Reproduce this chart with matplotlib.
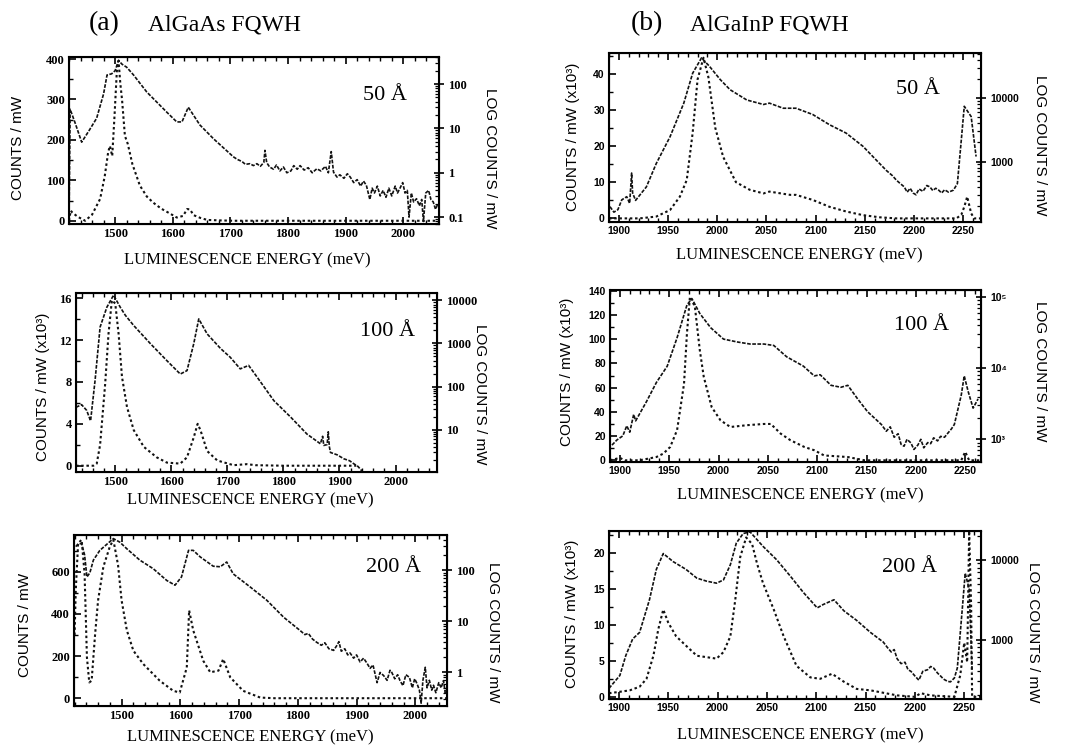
#!/usr/bin/env python3
"""fqwh_luminescence.py - AlGaAs / AlGaInP FQWH luminescence spectra"""

import matplotlib
matplotlib.use("Agg")
import matplotlib.pyplot as plt
from matplotlib.font_manager import FontProperties
from matplotlib.ticker import MultipleLocator, FixedLocator, LogLocator, NullFormatter

SERIF = ["Liberation Serif", "DejaVu Serif"]
SANS = ["Liberation Sans", "DejaVu Sans"]

# ---- (a) AlGaAs, 50 A ----
a50_lin_e = [1420, 1423, 1426, 1435, 1448, 1460, 1474, 1482, 1488, 1491, 1495, 1499, 1503,
             1506, 1509, 1512, 1517, 1522, 1530, 1543, 1555, 1566, 1580, 1595, 1607, 1618,
             1625, 1630, 1636, 1648, 1660, 1680, 1705, 1800, 1900, 2000, 2060]
a50_lin_v = [0, 25, 20, 10, 0, 15, 54, 110, 170, 185, 160, 260, 370, 396, 340, 300, 210,
             190, 140, 87, 60, 45, 30, 18, 8, 12, 29, 28, 14, 7, 2, 1, 0, 0, 0, 0, 0]
a50_log_e = [1420, 1422, 1430, 1442, 1455, 1468, 1480, 1486, 1494, 1500, 1506, 1512, 1520,
             1532, 1555, 1590, 1607, 1616, 1627, 1647, 1671, 1705, 1712, 1720, 1726, 1734,
             1740, 1746, 1752, 1758, 1760, 1763, 1768, 1775, 1780, 1786, 1792, 1798, 1805,
             1810, 1816, 1821, 1828, 1835, 1842, 1850, 1857, 1865, 1870, 1875, 1879, 1885,
             1890, 1897, 1903, 1908, 1914, 1920, 1926, 1931, 1936, 1942, 1946, 1950, 1955,
             1960, 1965, 1970, 1975, 1980, 1986, 1990, 1994, 1999, 2003, 2007, 2010, 2014,
             2018, 2023, 2028, 2032, 2035, 2039, 2044, 2048, 2052, 2056, 2060]
a50_log_v = [0.08, 27, 14, 4.9, 9, 17, 60, 160, 170, 200, 340, 280, 240, 160, 66, 23, 14,
             14, 30, 12, 5.8, 2.3, 2.0, 1.8, 1.55, 1.6, 1.45, 1.6, 1.4, 1.7, 3.2, 1.7, 1.35,
             1.2, 1.5, 1.1, 1.35, 1.0, 1.1, 1.45, 1.2, 1.45, 1.15, 1.3, 1.0, 1.23, 1.1, 1.4,
             1.0, 3.0, 1.03, 0.8, 0.9, 0.75, 0.95, 0.8, 0.6, 0.7, 0.5, 0.65, 0.52, 0.25,
             0.45, 0.35, 0.5, 0.3, 0.4, 0.28, 0.45, 0.3, 0.5, 0.35, 0.44, 0.6, 0.35, 0.4,
             0.1, 0.35, 0.22, 0.26, 0.18, 0.25, 0.08, 0.35, 0.4, 0.25, 0.22, 0.15, 0.2]

# ---- (a) AlGaAs, 100 A ----
a100_lin_e = [1430, 1461, 1467, 1473, 1482, 1488, 1494, 1500, 1506, 1512, 1521, 1533, 1551,
              1574, 1592, 1616, 1628, 1640, 1647, 1652, 1664, 1682, 1711, 1735, 1750, 1800,
              1930]
a100_lin_v = [0, 0, 0.2, 2, 7.8, 12.6, 15.8, 15.5, 12.6, 8.5, 5.6, 3.4, 1.8, 0.8, 0.3, 0.2,
              0.8, 2.7, 4.0, 3.4, 1.4, 0.5, 0.05, 0.15, 0.05, 0, 0]
a100_log_e = [1430, 1440, 1449, 1456, 1464, 1473, 1485, 1497, 1509, 1518, 1533, 1563, 1592,
              1616, 1628, 1640, 1649, 1664, 1688, 1705, 1723, 1738, 1753, 1783, 1813, 1842,
              1866, 1870, 1872, 1878, 1880, 1882, 1884, 1896, 1908, 1918, 1926, 1933, 1940]
a100_log_v = [33, 38, 28, 16, 138, 2400, 6900, 13200, 6900, 4500, 2600, 980, 400, 195, 234,
              980, 3700, 1660, 760, 480, 257, 309, 166, 47, 19.5, 7.9, 4.7, 7.0, 4.3, 4.5,
              8.9, 4.0, 2.95, 2.6, 2.1, 1.9, 1.6, 1.4, 1.1]

# ---- (a) AlGaAs, 200 A ----
a200_lin_e = [1420, 1422, 1426, 1432, 1437, 1441, 1445, 1449, 1455, 1460, 1469, 1480, 1486,
              1494, 1500, 1509, 1520, 1537, 1565, 1588, 1599, 1611, 1615, 1622, 1639, 1651,
              1665, 1673, 1685, 1707, 1736, 1760, 1800, 2054]
a200_lin_v = [300, 513, 736, 752, 592, 194, 75, 83, 306, 465, 624, 720, 752, 632, 465, 322,
              226, 162, 83, 35, 27, 146, 417, 322, 178, 123, 131, 186, 99, 35, 3, 0, 0, 0]
a200_log_e = [1422, 1426, 1432, 1437, 1441, 1446, 1452, 1463, 1474, 1486, 1497, 1509, 1531,
              1554, 1577, 1591, 1602, 1614, 1622, 1634, 1656, 1668, 1679, 1690, 1719, 1747,
              1776, 1804, 1812, 1818, 1825, 1832, 1840, 1846, 1853, 1861, 1866, 1870, 1874,
              1880, 1885, 1889, 1895, 1900, 1906, 1912, 1918, 1923, 1928, 1935, 1940, 1946,
              1952, 1957, 1960, 1965, 1970, 1974, 1979, 1984, 1990, 1995, 1999, 2003, 2007,
              2010, 2013, 2017, 2020, 2024, 2028, 2031, 2035, 2040, 2044, 2048, 2051, 2053]
a200_log_v = [290, 330, 330, 200, 74, 89, 158, 245, 316, 417, 355, 263, 158, 107, 63, 51,
              74, 245, 245, 182, 120, 117, 145, 85, 47, 26, 12, 6.6, 5.5, 5.8, 4.5, 3.9,
              3.4, 3.8, 2.9, 2.7, 3.3, 4.0, 2.6, 2.9, 2.2, 2.4, 1.9, 2.2, 1.6, 1.9, 1.5,
              1.2, 1.4, 0.63, 1.0, 0.87, 0.7, 1.1, 1.0, 0.75, 0.9, 0.69, 0.55, 0.9, 0.8,
              0.5, 0.75, 0.6, 0.45, 0.25, 0.7, 1.26, 0.5, 0.7, 0.45, 0.56, 0.4, 0.63, 0.5,
              0.69, 0.4, 0.45]

# ---- (b) AlGaInP, 50 A ----
b50_lin_e = [1890, 1900, 1921, 1938, 1952, 1962, 1969, 1975, 1980, 1986, 1991, 1998, 2006,
             2019, 2033, 2047, 2053, 2074, 2080, 2097, 2114, 2131, 2148, 2165, 2182, 2243,
             2248, 2251, 2254, 2258, 2261, 2268]
b50_lin_v = [0, 0, 0, 0.5, 2.3, 6, 10.6, 23.6, 38.4, 44.4, 39, 25, 17, 10, 7.9, 6.9, 7.4,
             6.5, 6.5, 5.1, 3.2, 1.9, 0.9, 0.3, 0, 0, 1.0, 3.2, 6, 1.4, 0, 0]
b50_log_e = [1891, 1895, 1899, 1903, 1908, 1911, 1913, 1914, 1917, 1928, 1938, 1952, 1966,
             1975, 1984, 1992, 2003, 2013, 2030, 2047, 2053, 2067, 2080, 2097, 2114, 2131,
             2148, 2165, 2172, 2178, 2182, 2186, 2190, 2193, 2196, 2199, 2202, 2205, 2209,
             2213, 2216, 2219, 2222, 2225, 2228, 2231, 2235, 2240, 2244, 2248, 2251, 2254,
             2258, 2263]
b50_log_v = [195, 160, 175, 250, 280, 220, 660, 320, 245, 400, 930, 2450, 8300, 24500,
             42700, 31600, 19500, 13500, 9300, 7900, 8300, 6900, 6900, 5500, 3800, 2800,
             1740, 930, 720, 600, 510, 450, 400, 330, 380, 320, 300, 370, 340, 420, 400,
             350, 380, 355, 320, 360, 330, 355, 450, 2200, 7400, 6300, 5100, 1200]

# ---- (b) AlGaInP, 100 A ----
b100_lin_e = [1890, 1900, 1905, 1920, 1937, 1944, 1951, 1958, 1965, 1968, 1971, 1976, 1981,
              1985, 1993, 2002, 2012, 2029, 2046, 2053, 2063, 2073, 2087, 2097, 2107, 2131,
              2148, 2246, 2250, 2254, 2266]
b100_lin_v = [0, 2, 0, 0, 2.7, 5.5, 11, 25, 63, 105, 135, 127, 91, 69, 44, 33, 27.5, 29, 30,
              30, 22, 16.5, 11, 8.3, 4, 2.7, 0, 0, 7, 0, 0]
b100_log_e = [1892, 1897, 1903, 1907, 1910, 1914, 1916, 1927, 1937, 1948, 1958, 1968, 1973,
              1981, 1992, 2005, 2019, 2032, 2046, 2056, 2069, 2086, 2097, 2103, 2114, 2124,
              2131, 2141, 2151, 2165, 2170, 2174, 2178, 2182, 2185, 2188, 2191, 2195, 2198,
              2202, 2205, 2208, 2212, 2215, 2218, 2222, 2225, 2229, 2233, 2236, 2239, 2246,
              2249, 2253, 2258, 2263]
b100_log_v = [830, 980, 1120, 1550, 1260, 2240, 1820, 3400, 6300, 10700, 26900, 77600,
              95500, 58900, 37200, 25700, 23400, 21900, 21900, 20900, 14500, 10700, 7800,
              8100, 5750, 5400, 5750, 3700, 2450, 1620, 1300, 1500, 1070, 1200, 850, 800,
              1000, 890, 720, 830, 1000, 760, 900, 870, 1050, 950, 1100, 1070, 1250, 1400,
              1620, 4200, 7800, 4700, 2750, 3700]

# ---- (b) AlGaInP, 200 A ----
b200_lin_e = [1890, 1901, 1911, 1921, 1928, 1935, 1940, 1945, 1950, 1958, 1968, 1979, 1989,
              1999, 2006, 2013, 2018, 2023, 2029, 2035, 2040, 2046, 2057, 2067, 2080, 2094,
              2104, 2116, 2128, 2141, 2155, 2182, 2200, 2206, 2216, 2240, 2246, 2250, 2253,
              2255, 2257, 2258, 2267]
b200_lin_v = [0.5, 0.7, 0.9, 1.4, 2.5, 5.7, 9.4, 12.1, 10.3, 8.4, 7.1, 5.7, 5.5, 5.3, 6.2,
              8.4, 13.5, 19.4, 22.1, 21.2, 18.5, 15.8, 12.1, 8.4, 4.3, 2.7, 2.5, 3.2, 2.1,
              1.1, 0.9, 0.2, 0, 0.5, 0.2, 0, 3.0, 7.5, 4.8, 23, 12.6, 0, 0]
b200_log_e = [1890, 1901, 1907, 1914, 1921, 1931, 1938, 1945, 1955, 1968, 1979, 1989, 1999,
              2006, 2013, 2019, 2026, 2033, 2046, 2060, 2074, 2087, 2101, 2107, 2118, 2128,
              2141, 2155, 2168, 2172, 2176, 2179, 2182, 2186, 2190, 2193, 2196, 2200, 2204,
              2208, 2213, 2216, 2219, 2223, 2226, 2229, 2233, 2236, 2240, 2243, 2248, 2251,
              2255, 2258]
b200_log_v = [245, 355, 630, 1020, 1230, 3160, 7600, 12000, 9500, 7600, 5900, 5400, 5100,
              5600, 8700, 16200, 21400, 22400, 14800, 10000, 6200, 3900, 2500, 2750, 3160,
              2300, 1740, 1230, 930, 800, 700, 750, 575, 500, 520, 420, 400, 350, 310, 400,
              420, 460, 440, 380, 350, 320, 300, 295, 330, 440, 2400, 6800, 4300, 400]

W, H = 1065, 747


def box(left, top, right, bottom):
    """Pixel box -> figure fraction rect."""
    return [left / W, 1 - bottom / H, (right - left) / W, (bottom - top) / H]


def put(fig, x, y, s, **kw):
    """Place text at pixel coordinates."""
    fig.text(x / W, 1 - y / H, s, ha="center", va="center", **kw)


def panel(fig, rect, lin, log, xlim, ylim, loglim, xmaj, xmin, ymaj, ymin,
          rticks, rlabels, tickfont):
    ax = fig.add_axes(rect)
    ax.plot(lin[0], lin[1], color="#111111", lw=1.5, ls=(0, (1.2, 1.3)))
    ax.set_xlim(*xlim)
    ax.set_ylim(*ylim)
    ax.xaxis.set_major_locator(MultipleLocator(xmaj))
    ax.xaxis.set_minor_locator(MultipleLocator(xmin))
    ax.yaxis.set_major_locator(MultipleLocator(ymaj))
    ax.yaxis.set_minor_locator(MultipleLocator(ymin))
    ax.tick_params(which="major", direction="in", length=5, width=1.2,
                   top=True, right=False, pad=3)
    ax.tick_params(which="minor", direction="in", length=3, width=1.0,
                   top=True, right=False)
    for sp in ax.spines.values():
        sp.set_linewidth(1.5)
    for lab in ax.get_xticklabels() + ax.get_yticklabels():
        lab.set_fontproperties(tickfont)

    # log-scale spectrum on the right axis
    ax2 = ax.twinx()
    ax2.plot(log[0], log[1], color="#111111", lw=1.2, ls=(0, (2.2, 0.9)))
    ax2.set_yscale("log")
    ax2.set_ylim(*loglim)
    ax2.yaxis.set_major_locator(FixedLocator(rticks))
    ax2.yaxis.set_minor_locator(LogLocator(base=10, subs=range(2, 10)))
    ax2.yaxis.set_minor_formatter(NullFormatter())
    ax2.set_yticklabels(rlabels)
    ax2.tick_params(which="major", direction="inout", length=7, width=1.2, pad=3)
    ax2.tick_params(which="minor", direction="in", length=3, width=0.9)
    for lab in ax2.get_yticklabels():
        lab.set_fontproperties(tickfont)
    return ax


def main() -> None:
    fig = plt.figure(figsize=(W / 100, H / 100), dpi=100)
    fig.patch.set_facecolor("white")

    fpa = FontProperties(family=SERIF, weight="bold", size=9)
    fpb = FontProperties(family=SANS, weight="bold", size=7.5)

    panel(fig, box(69, 57, 439, 224), (a50_lin_e, a50_lin_v), (a50_log_e, a50_log_v),
          (1420, 2062), (-8, 405), (0.07, 407), 100, 20, 100, 50,
          [0.1, 1, 10, 100], ["0.1", "1", "10", "100"], fpa)
    panel(fig, box(76, 293, 437, 472), (a100_lin_e, a100_lin_v), (a100_log_e, a100_log_v),
          (1430, 2074), (-0.6, 16.5), (1.04, 14800), 100, 20, 4, 2,
          [10, 100, 1000, 10000], ["10", "100", "1000", "10000"], fpa)
    panel(fig, box(74, 535, 447, 706), (a200_lin_e, a200_lin_v), (a200_log_e, a200_log_v),
          (1419, 2054), (-37, 775), (0.22, 490), 100, 20, 200, 100,
          [1, 10, 100], ["1", "10", "100"], fpa)
    panel(fig, box(609, 53, 981, 222), (b50_lin_e, b50_lin_v), (b50_log_e, b50_log_v),
          (1890, 2268), (-1, 45.7), (112, 51000), 50, 10, 10, 5,
          [1000, 10000], ["1000", "10000"], fpb)
    panel(fig, box(610, 290, 981, 462), (b100_lin_e, b100_lin_v), (b100_log_e, b100_log_v),
          (1890, 2266), (-1.4, 140.6), (480, 126000), 50, 10, 20, 10,
          [1000, 10000, 100000], ["10³", "10⁴", "10⁵"], fpb)
    panel(fig, box(609, 531, 981, 699), (b200_lin_e, b200_lin_v), (b200_log_e, b200_log_v),
          (1890, 2267), (-0.3, 23), (180, 23000), 50, 10, 5, 2.5,
          [1000, 10000], ["1000", "10000"], fpb)

    # titles
    put(fig, 104, 24, "(a)", family=SERIF, size=20)
    put(fig, 224, 25, "AlGaAs FQWH", family=SERIF, size=17)
    put(fig, 647, 24, "(b)", family=SERIF, size=20)
    put(fig, 769, 25, "AlGaInP FQWH", family=SERIF, size=17)

    xl = "LUMINESCENCE ENERGY (meV)"
    for x, y in [(247, 260), (250, 500), (250, 737), (799, 255), (800, 495), (800, 735)]:
        put(fig, x, y, xl, family=SERIF, size=12)

    for x, y, s in [(385, 95, "50 Å"), (388, 332, "100 Å"), (393, 567, "200 Å"),
                    (918, 90, "50 Å"), (921, 326, "100 Å"), (910, 567, "200 Å")]:
        put(fig, x, y, s, family=SERIF, size=16)

    for x, y, s in [(18, 148, "COUNTS / mW"), (43, 387, "COUNTS / mW (x10³)"),
                    (25, 625, "COUNTS / mW"), (573, 137, "COUNTS / mW (x10³)"),
                    (567, 372, "COUNTS / mW (x10³)"), (572, 614, "COUNTS / mW (x10³)")]:
        put(fig, x, y, s, family=SANS, size=11, rotation=90)

    for x, y in [(490, 158), (480, 394), (493, 632), (1040, 145), (1040, 371), (1033, 632)]:
        put(fig, x, y, "LOG COUNTS / mW", family=SANS, size=11, rotation=-90)

    fig.savefig("out.png", dpi=100, facecolor="white")


if __name__ == "__main__":
    main()
